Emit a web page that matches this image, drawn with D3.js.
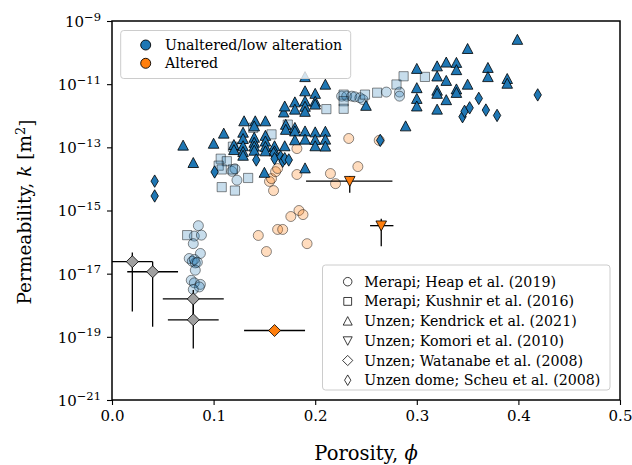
<!DOCTYPE html>
<html><head><meta charset="utf-8">
<script src="https://cdn.jsdelivr.net/npm/d3@7"></script>
<style>
body{margin:0;background:#fff}
svg{display:block}
svg text{font-family:"DejaVu Serif","Liberation Serif","Noto Serif",serif !important;fill:#000}
</style>
</head><body>
<svg id="c" width="632" height="465"></svg>
<script>
// ---------- data: [porosity, log10 permeability (m^2)] ----------
const heapUnaltered = [
  [0.085,-15.48],[0.081,-15.81],[0.088,-15.78],[0.080,-16.05],[0.087,-16.36],[0.076,-16.52],
  [0.079,-16.61],[0.082,-16.66],[0.081,-16.55],[0.084,-16.64],[0.082,-16.89],[0.078,-17.21],
  [0.081,-17.29],[0.087,-17.34],[0.086,-17.42],[0.080,-17.50],
  [0.118,-13.76],[0.121,-13.68],[0.123,-14.04],
  [0.226,-11.38],[0.231,-11.38],[0.236,-11.38],[0.239,-11.40],[0.244,-11.43],[0.247,-11.49],
  [0.270,-11.25],[0.283,-11.25],[0.283,-11.38]
];
const heapAltered = [
  [0.233,-12.72],[0.263,-12.78],[0.242,-13.61],[0.215,-13.83],[0.220,-14.15],[0.182,-13.86],
  [0.159,-14.37],[0.155,-14.08],[0.157,-13.99],[0.161,-13.77],[0.163,-13.67],[0.182,-13.04],
  [0.184,-15.00],[0.188,-15.13],[0.176,-15.19],[0.163,-15.60],[0.168,-15.60],[0.144,-15.79],
  [0.192,-16.05],[0.152,-16.30]
];
const kushnir = [
  [0.074,-15.78],[0.107,-13.36],[0.113,-13.44],[0.105,-13.58],[0.108,-13.70],[0.119,-13.70],
  [0.108,-14.26],[0.121,-14.37],[0.134,-13.97],[0.119,-12.98],[0.124,-13.02],[0.139,-12.38],
  [0.157,-12.59],[0.173,-12.28],[0.211,-11.79],[0.228,-11.33],[0.228,-11.54],[0.228,-11.78],
  [0.249,-11.33],[0.261,-11.27],[0.280,-11.01],[0.287,-10.75],[0.308,-10.77]
];
const kendrick = [
  [0.070,-12.94],[0.080,-13.49],[0.100,-12.88],[0.110,-12.56],[0.120,-12.92],[0.120,-13.08],[0.130,-12.17],
  [0.129,-12.53],[0.129,-12.73],[0.129,-12.96],[0.129,-13.14],[0.129,-13.26],
  [0.141,-12.17],[0.140,-12.33],[0.140,-12.69],[0.140,-12.85],[0.140,-12.97],[0.140,-13.10],
  [0.151,-12.17],[0.151,-12.63],[0.151,-12.81],[0.151,-12.98],[0.151,-13.12],[0.150,-13.80],
  [0.160,-12.96],[0.160,-13.12],
  [0.169,-11.89],[0.170,-11.70],[0.171,-12.28],[0.171,-12.44],[0.170,-12.96],
  [0.180,-11.57],[0.180,-11.80],[0.180,-12.38],[0.180,-12.49],[0.180,-12.77],
  [0.190,-10.77],[0.190,-11.22],[0.190,-11.54],[0.190,-11.71],[0.190,-11.87],[0.190,-12.49],[0.190,-12.75],[0.190,-13.66],
  [0.200,-11.30],[0.200,-11.55],[0.200,-11.64],[0.200,-12.52],[0.200,-12.76],[0.200,-12.96],
  [0.210,-11.01],[0.210,-12.50],[0.210,-12.75],[0.210,-12.97],
  [0.250,-11.68],[0.289,-12.33],
  [0.300,-10.51],[0.300,-11.12],[0.300,-11.46],[0.300,-11.70],
  [0.320,-10.43],[0.320,-10.75],[0.320,-11.20],[0.320,-11.30],[0.320,-11.80],
  [0.329,-10.31],[0.329,-10.89],[0.329,-11.50],
  [0.339,-10.32],[0.339,-10.55],[0.339,-11.16],[0.339,-11.27],
  [0.350,-9.88],[0.350,-11.01],[0.370,-10.48],[0.370,-10.77],[0.389,-10.83],[0.389,-10.98],[0.399,-9.59]
];
const scheu = [
  [0.042,-14.07],[0.042,-14.54],[0.101,-13.78],[0.142,-13.40],[0.159,-13.20],[0.160,-13.36],
  [0.166,-13.30],[0.168,-13.44],[0.170,-13.36],[0.174,-13.40],[0.264,-12.78],[0.345,-12.03],
  [0.347,-11.86],[0.352,-11.75],[0.361,-11.45],[0.368,-11.82],[0.379,-11.99],[0.419,-11.34]
];
// [phi, log10k, phiMin, phiMax, log10kMax, log10kMin]
const komori = [
  [0.234,-14.07,0.191,0.276,-13.91,-14.44],
  [0.265,-15.48,0.254,0.277,-15.26,-16.13]
];
const watanabeUnaltered = [
  [0.020,-16.62,0.000,0.040,-16.33,-18.20],
  [0.040,-16.94,0.015,0.065,-16.62,-18.68],
  [0.080,-17.80,0.050,0.110,-17.52,-18.40],
  [0.080,-18.46,0.055,0.105,-17.90,-19.37]
];
const watanabeAltered = [
  [0.160,-18.80,0.130,0.190,-18.80,-18.80]
];
const xTicks = [0,0.1,0.2,0.3,0.4,0.5];
const yTickExps = [-9,-11,-13,-15,-17,-19,-21];
const legendGroups = ["Unaltered/low alteration","Altered"];
const legendSources = ["Merapi; Heap et al. (2019)","Merapi; Kushnir et al. (2016)","Unzen; Kendrick et al. (2021)",
  "Unzen; Komori et al. (2010)","Unzen; Watanabe et al. (2008)","Unzen dome; Scheu et al. (2008)"];

// ---------- chart ----------
const BLUE="#1f77b4", ORANGE="#ff7f0e", GRAY="#a0a0a0";
const L=112,R=620,T=21,B=400;
const svg=d3.select("#c");
const x=d3.scaleLinear().domain([0,0.5]).range([L,R]);
const y=d3.scaleLog().domain([1e-21,1e-9]).range([B,T]);
const K=v=>Math.pow(10,v);

svg.append("defs").append("clipPath").attr("id","clip")
  .append("rect").attr("x",L).attr("y",T).attr("width",R-L).attr("height",B-T);
const plot=svg.append("g").attr("clip-path","url(#clip)");

const shapes={
  circle:"M5,0A5,5,0,1,1,-5,0A5,5,0,1,1,5,0Z",
  square:"M-4.6,-4.6H4.6V4.6H-4.6Z",
  triUp:"M0,-5.3L5.3,4.7L-5.3,4.7Z",
  triDown:"M0,5.3L5.3,-4.7L-5.3,-4.7Z",
  diamond:"M0,-6L6,0L0,6L-6,0Z",
  thinDiamond:"M0,-6.2L3.7,0L0,6.2L-3.7,0Z"
};
function scatter(data,shape,fill,fop,sop){
  plot.append("g").selectAll("path").data(data).join("path")
    .attr("d",shapes[shape])
    .attr("transform",d=>`translate(${x(d[0])},${y(K(d[1]))})`)
    .attr("fill",fill).attr("fill-opacity",fop)
    .attr("stroke","#000").attr("stroke-opacity",sop).attr("stroke-width",0.9);
}
function errbars(data){
  const g=plot.append("g").attr("stroke","#000").attr("stroke-width",1.3);
  data.forEach(d=>{
    g.append("line").attr("x1",x(d[2])).attr("x2",x(d[3])).attr("y1",y(K(d[1]))).attr("y2",y(K(d[1])));
    if(d[4]!==d[5]) g.append("line").attr("x1",x(d[0])).attr("x2",x(d[0])).attr("y1",y(K(d[4]))).attr("y2",y(K(d[5])));
  });
}
scatter(heapUnaltered,"circle",BLUE,0.25,0.5);
scatter(heapAltered,"circle",ORANGE,0.27,0.5);
scatter(kushnir,"square",BLUE,0.25,0.5);
scatter(kendrick,"triUp",BLUE,1,0.9);
errbars(komori);
scatter(komori,"triDown",ORANGE,1,0.9);
errbars(watanabeUnaltered);
errbars(watanabeAltered);
scatter(watanabeUnaltered,"diamond",GRAY,1,0.9);
scatter(watanabeAltered,"diamond",ORANGE,1,0.9);
scatter(scheu,"thinDiamond",BLUE,1,0.9);

// axes
const FS_TICK=15;
const xa=svg.append("g").attr("transform",`translate(0,${B})`)
  .call(d3.axisBottom(x).tickValues(xTicks).tickFormat(d3.format(".1f")).tickSize(5).tickPadding(5));
xa.attr("font-family",null).attr("font-size",null);
xa.selectAll("text").attr("font-size",FS_TICK);
const ya=svg.append("g").attr("transform",`translate(${L},0)`)
  .call(d3.axisLeft(y).tickValues(yTickExps.map(e=>K(e))).tickFormat("").tickSize(5).tickPadding(5));
ya.attr("font-family",null).attr("font-size",null);
ya.selectAll(".tick").each(function(d){
  const e=Math.round(Math.log10(d));
  const t=d3.select(this).select("text").attr("x",-11).attr("dy","0.36em")
    .attr("font-size",FS_TICK).attr("text-anchor","end");
  t.text(null);
  t.append("tspan").text("10");
  t.append("tspan").attr("dy","-0.55em").attr("font-size",11.5).text("\u2212"+Math.abs(e));
});
[xa,ya].forEach(a=>{a.select(".domain").remove(); a.selectAll("line").attr("stroke-width",1.1);});
svg.append("rect").attr("x",L).attr("y",T).attr("width",R-L).attr("height",B-T)
  .attr("fill","none").attr("stroke","#000").attr("stroke-width",1.5);

// axis titles
const xt=svg.append("text").attr("x",(L+R)/2).attr("y",460).attr("text-anchor","middle")
  .attr("font-size",19.5);
xt.append("tspan").text("Porosity, ");
xt.append("tspan").attr("font-style","italic").text("\u03d5");
const yt=svg.append("text").attr("transform","translate(31,212) rotate(-90)").attr("text-anchor","middle")
  .attr("font-size",18.5);
yt.append("tspan").text("Permeability, ");
yt.append("tspan").attr("font-style","italic").text("k");
yt.append("tspan").text(" [m");
yt.append("tspan").attr("dy","-0.45em").attr("font-size",13).text("2");
yt.append("tspan").attr("dy","0.45em").text("]");

// legend 1
const FS_LEG=14.2;
const lg1=svg.append("g");
lg1.append("rect").attr("x",120.7).attr("y",30.5).attr("width",230).attr("height",48).attr("rx",3)
  .attr("fill","#fff").attr("fill-opacity",0.8).attr("stroke","#cccccc").attr("stroke-width",1);
[BLUE,ORANGE].forEach((c,i)=>{
  const cy=45+i*18.3;
  lg1.append("path").attr("d",shapes.circle).attr("transform",`translate(145.7,${cy})`)
    .attr("fill",c).attr("stroke","#000").attr("stroke-width",0.9);
  lg1.append("text").attr("x",165).attr("y",cy+5).attr("font-size",FS_LEG).text(legendGroups[i]);
});
// legend 2
const lg2=svg.append("g");
lg2.append("rect").attr("x",322.5).attr("y",265).attr("width",287.5).attr("height",125).attr("rx",3)
  .attr("fill","#fff").attr("fill-opacity",0.8).attr("stroke","#cccccc").attr("stroke-width",1);
const srcShapes=["circle","square","triUp","triDown","diamond","thinDiamond"];
legendSources.forEach((s,i)=>{
  const cy=281.7+i*19.7;
  lg2.append("path").attr("d",shapes[srcShapes[i]]).attr("transform",`translate(347.7,${cy}) scale(0.85)`)
    .attr("fill","#fff").attr("stroke","#000").attr("stroke-width",0.9);
  lg2.append("text").attr("x",364.3).attr("y",cy+5).attr("font-size",FS_LEG).text(s);
});
</script>
</body></html>
